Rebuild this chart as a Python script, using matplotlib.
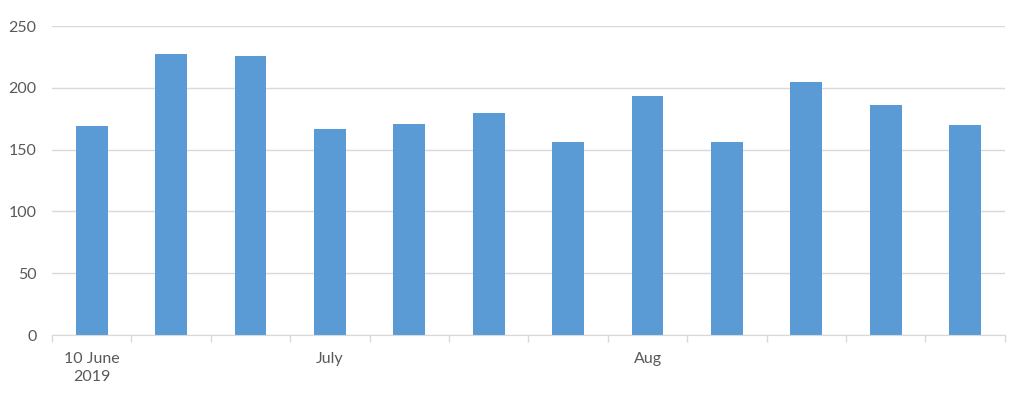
import matplotlib
matplotlib.use("Agg")
import matplotlib.pyplot as plt
import numpy as np

weeks = ["10 June\n2019", "", "", "July", "", "", "", "Aug", "", "", "", ""]
values = [169, 227, 226, 167, 171, 180, 156, 193, 156, 205, 186, 170]
yticks = [0, 50, 100, 150, 200, 250]

plt.rcParams['font.family'] = ['Lato', 'DejaVu Sans']
text_color = "#595959"
grid_color = "#D9D9D9"

fig = plt.figure(figsize=(10.17, 4.05), dpi=100)
ax = fig.add_axes([0.0511, 0.1728, 0.9370, 0.7630])

x = np.arange(len(values))
ax.bar(x, values, width=0.4, color="#5B9BD5", zorder=3)

ax.set_xlim(-0.5, len(values) - 0.5)
ax.set_ylim(0, 250)
ax.set_yticks(yticks)
ax.set_yticklabels([str(v) for v in yticks])
ax.yaxis.grid(True, color=grid_color, linewidth=1.0, zorder=0)

ax.set_xticks(np.arange(-0.5, len(values)), minor=False)
ax.set_xticklabels([])
ax.set_xticks(x, minor=True)
ax.set_xticklabels(weeks, minor=True, linespacing=1.35)
ax.tick_params(axis='x', which='major', length=5, color=grid_color, width=1)
ax.tick_params(axis='x', which='minor', length=0, pad=12, labelsize=11.5, labelcolor=text_color)
ax.tick_params(axis='y', length=0, pad=11, labelsize=11.5, labelcolor=text_color)

for s in ['top', 'right', 'left']:
    ax.spines[s].set_visible(False)
ax.spines['bottom'].set_color(grid_color)
ax.spines['bottom'].set_zorder(4)

fig.savefig("out.png", dpi=100)
